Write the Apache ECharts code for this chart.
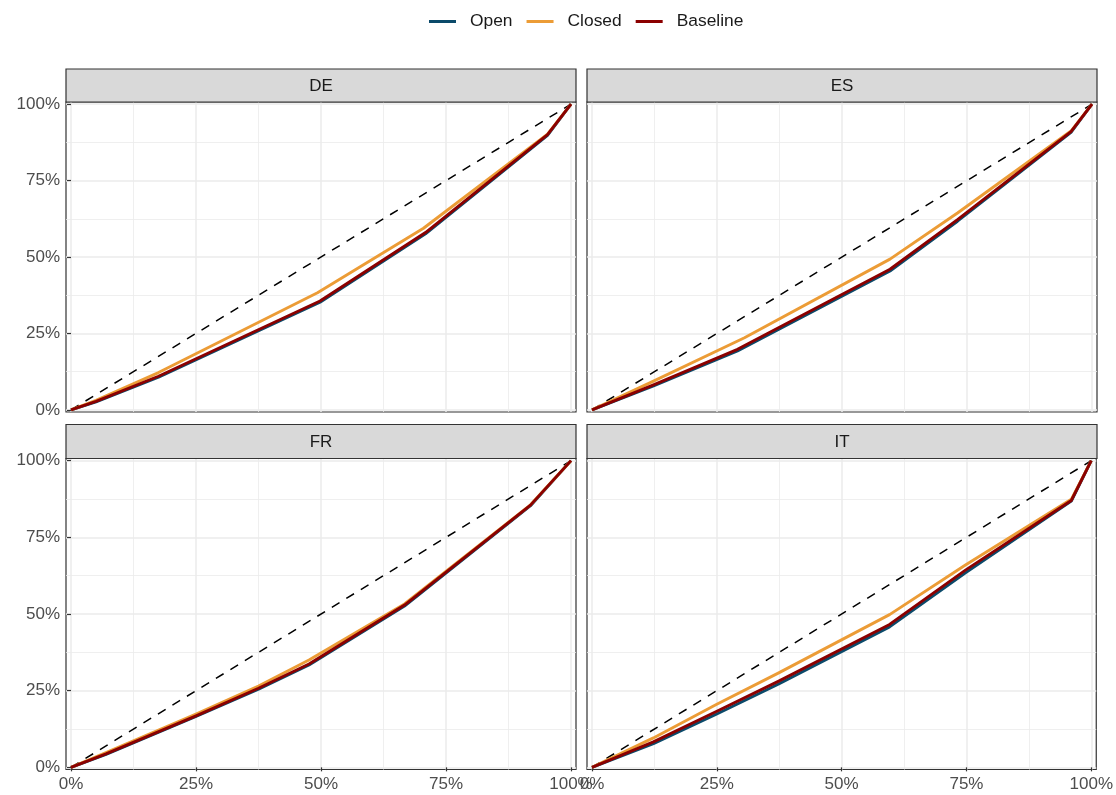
<!DOCTYPE html>
<html>
<head>
<meta charset="utf-8">
<title>Concentration curves by country</title>
<script src="https://cdn.jsdelivr.net/npm/echarts@6/dist/echarts.min.js"></script>
<style>
  html, body { margin: 0; padding: 0; background: #ffffff; }
  #chart { width: 1116px; height: 795px; }
</style>
</head>
<body>
<div id="chart"></div>
<script>
// Cumulative share of population (x, %) vs cumulative share (y, %), per country.
const countries = ['DE', 'ES', 'FR', 'IT'];
const seriesNames = ['Open', 'Closed', 'Baseline'];
const seriesColors = ['#0B4A6A', '#EC9C36', '#8B0000'];
const tickValues = [0, 25, 50, 75, 100];
const minorValues = [12.5, 37.5, 62.5, 87.5];
const equality = [[0, 0], [100, 100]];

const deOpen     = [[0, 0], [5, 2.6], [17.5, 10.7], [49.8, 35.2], [70.9, 57.6], [95.3, 89.8], [100, 100]];
const deClosed   = [[0, 0], [5, 3.1], [17.5, 12.2], [49.3, 38.3], [70.5, 59.4], [95.3, 90.2], [100, 100]];
const deBaseline = [[0, 0], [5, 2.8], [17.5, 11.0], [49.8, 35.6], [70.9, 58.0], [95.3, 90.0], [100, 100]];

const esOpen     = [[0, 0], [12.3, 7.8], [29.1, 19.3], [59.6, 45.4], [73.1, 61.7], [95.8, 90.8], [100, 100]];
const esClosed   = [[0, 0], [12.3, 9.4], [30.5, 23.6], [59.6, 49.3], [73.1, 64.4], [95.8, 91.2], [100, 100]];
const esBaseline = [[0, 0], [12.3, 8.2], [29.1, 19.8], [59.6, 46.0], [73.1, 62.2], [95.8, 91.0], [100, 100]];

const frOpen     = [[0, 0], [7, 4.2], [25, 16.6], [37.5, 25.5], [47.6, 33.4], [66.7, 52.6], [91.9, 85.3], [100, 100]];
const frClosed   = [[0, 0], [7, 4.8], [25, 17.4], [37.5, 26.5], [47.6, 35.0], [66.7, 53.3], [91.9, 85.6], [100, 100]];
const frBaseline = [[0, 0], [7, 4.4], [25, 16.8], [37.5, 25.8], [47.6, 33.7], [66.7, 52.9], [91.9, 85.5], [100, 100]];

const itOpen     = [[0, 0], [12.3, 7.7], [24.9, 17.3], [37.4, 27.2], [59.6, 45.8], [74.8, 63.4], [96, 86.8], [100, 100]];
const itClosed   = [[0, 0], [12.3, 9.6], [24.9, 20.5], [37.4, 30.8], [59.6, 49.8], [74.8, 66.0], [96, 87.4], [100, 100]];
const itBaseline = [[0, 0], [12.3, 8.3], [24.9, 18.2], [37.4, 28.1], [59.6, 46.6], [74.8, 64.3], [96, 87.0], [100, 100]];

const curves = {
  DE: [deOpen, deClosed, deBaseline],
  ES: [esOpen, esClosed, esBaseline],
  FR: [frOpen, frClosed, frBaseline],
  IT: [itOpen, itClosed, itBaseline]
};

// facet layout: 2 x 2 panels with a grey strip above each
const FONT = '"Liberation Sans", Arial, Helvetica, sans-serif';
const panels = [
  { left: 66,  top: 102,   width: 510, height: 310, stripTop: 69,    outerX: false, outerY: true  },
  { left: 587, top: 102,   width: 510, height: 310, stripTop: 69,    outerX: false, outerY: false },
  { left: 66,  top: 458.5, width: 510, height: 311, stripTop: 424.5, outerX: true,  outerY: true  },
  { left: 587, top: 458.5, width: 510, height: 311, stripTop: 424.5, outerX: true,  outerY: false }
];

const grids = [], xAxes = [], yAxes = [], series = [], graphics = [];

panels.forEach((p, i) => {
  grids.push({
    left: p.left, top: p.top, width: p.width, height: p.height,
    show: true, borderColor: '#333333', borderWidth: 1.2, backgroundColor: '#ffffff',
    containLabel: false
  });

  // major axes (ticks, labels, major grid)
  xAxes.push({
    gridIndex: i, type: 'value', min: -1, max: 101,
    axisLine: { show: false },
    axisTick: { show: p.outerX, customValues: tickValues, length: 4, lineStyle: { color: '#333333', width: 1.2 } },
    axisLabel: {
      show: p.outerX, customValues: tickValues, formatter: v => v + '%',
      color: '#4D4D4D', fontSize: 17, fontFamily: FONT, margin: 6
    },
    splitLine: { show: true, lineStyle: { color: '#EBEBEB', width: 1.5 } },
    z: 1
  });
  yAxes.push({
    gridIndex: i, type: 'value', min: -0.7, max: 100.7,
    axisLine: { show: false },
    axisTick: { show: p.outerY, customValues: tickValues, length: 4, lineStyle: { color: '#333333', width: 1.2 } },
    axisLabel: {
      show: p.outerY, customValues: tickValues, formatter: v => v + '%',
      color: '#4D4D4D', fontSize: 17, fontFamily: FONT, margin: 6
    },
    splitLine: { show: true, lineStyle: { color: '#EBEBEB', width: 1.5 } },
    z: 1
  });
});

// minor grid lines on companion axes
panels.forEach((p, i) => {
  xAxes.push({
    gridIndex: i, type: 'value', min: -1, max: 101,
    axisLine: { show: false },
    axisTick: { show: false, customValues: minorValues },
    axisLabel: { show: false, customValues: minorValues },
    splitLine: { show: true, lineStyle: { color: '#EBEBEB', width: 0.8 } },
    z: 0
  });
  yAxes.push({
    gridIndex: i, type: 'value', min: -0.7, max: 100.7,
    axisLine: { show: false },
    axisTick: { show: false, customValues: minorValues },
    axisLabel: { show: false, customValues: minorValues },
    splitLine: { show: true, lineStyle: { color: '#EBEBEB', width: 0.8 } },
    z: 0
  });
});

countries.forEach((c, i) => {
  // line of equality
  series.push({
    type: 'line', xAxisIndex: i, yAxisIndex: i, data: equality,
    symbol: 'none', silent: true, z: 2,
    lineStyle: { color: '#000000', width: 1.5, type: [9, 8] }
  });
  curves[c].forEach((pts, k) => {
    series.push({
      name: seriesNames[k], type: 'line', xAxisIndex: i, yAxisIndex: i,
      data: pts, symbol: 'none', color: seriesColors[k], z: 3 + k,
      lineStyle: { color: seriesColors[k], width: 2.9, join: 'round' }
    });
  });

  const p = panels[i];
  graphics.push({
    type: 'rect',
    shape: { x: p.left, y: p.stripTop, width: p.width, height: p.top - p.stripTop },
    style: { fill: '#D9D9D9', stroke: '#333333', lineWidth: 1.2 },
    z: 10
  });
  graphics.push({
    type: 'text',
    x: p.left + p.width / 2, y: p.stripTop + (p.top - p.stripTop) / 2 + 0.5,
    style: {
      text: c, fill: '#1A1A1A', fontSize: 17, fontFamily: FONT,
      align: 'center', verticalAlign: 'middle'
    },
    z: 11
  });
});

const chart = echarts.init(document.getElementById('chart'), null, { renderer: 'canvas' });
chart.setOption({
  animation: false,
  backgroundColor: '#ffffff',
  legend: {
    data: seriesNames,
    top: 8, left: 424,
    icon: 'rect', itemWidth: 27, itemHeight: 3, itemGap: 14,
    textStyle: { color: '#1A1A1A', fontSize: 17.4, fontFamily: FONT, padding: [0, 0, 0, 9] }
  },
  grid: grids,
  xAxis: xAxes,
  yAxis: yAxes,
  series: series,
  graphic: graphics
});
</script>
</body>
</html>
